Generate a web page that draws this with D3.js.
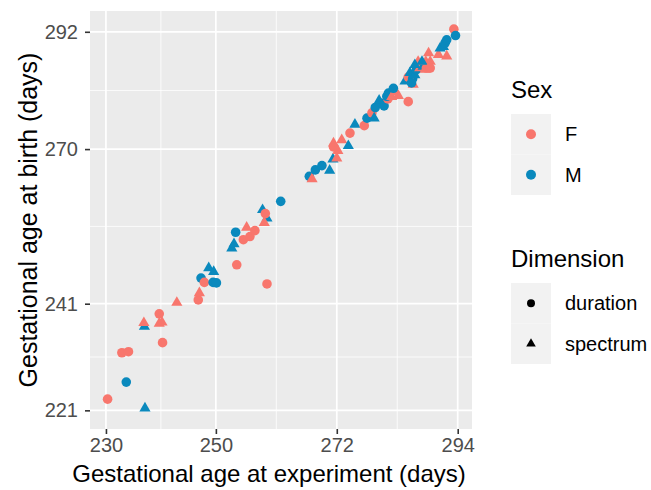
<!DOCTYPE html>
<html>
<head>
<meta charset="utf-8">
<script src="https://cdn.jsdelivr.net/npm/d3@7"></script>
<style>
  body { margin: 0; background: #fff; }
  svg { font-family: "Liberation Sans", Arial, sans-serif; }
</style>
</head>
<body>
<svg width="651" height="490"></svg>
<script>
// gestational ages (days)
const ageExperiment = [230.3, 233.7, 237.1, 232.9, 234.1, 240.3, 237.0, 236.9, 239.7, 239.7,
  240.2, 242.9, 246.8, 247.0, 247.3, 247.9, 249.5, 250.1, 248.7, 249.6,
  259.3, 253.8, 252.9, 253.3, 253.6, 255.0, 256.2, 257.1, 255.6, 258.5,
  259.3, 259.0, 258.8, 261.8, 267.0, 267.5, 268.1, 269.3, 270.7, 271.3,
  272.0, 271.4, 271.4, 272.9, 272.2, 274.1, 274.4, 275.3, 277.0, 277.5,
  278.4, 278.8, 279.0, 280.2, 279.7, 280.6, 281.3, 281.1, 281.4, 282.0,
  282.6, 283.2, 282.3, 285.0, 284.4, 285.0, 285.8, 285.9, 285.3, 285.6,
  286.2, 286.5, 286.8, 287.1, 286.2, 287.7, 288.3, 288.1, 288.7, 288.2,
  289.0, 287.5, 290.5, 292.0, 290.8, 291.4, 291.7, 292.0, 293.3, 293.6, 289.0];
const ageBirth = [223.1, 226.3, 221.4, 231.8, 232.0, 233.7, 236.7, 237.4, 239.1, 237.3,
  237.5, 241.2, 241.7, 243.0, 245.8, 245.0, 245.0, 244.9, 247.7, 247.0,
  244.7, 248.3, 251.4, 252.2, 254.4, 253.0, 253.6, 254.7, 255.3, 258.6,
  257.0, 257.9, 256.2, 260.2, 264.9, 264.4, 266.1, 266.9, 266.0, 268.1,
  268.3, 270.4, 271.1, 271.7, 269.7, 270.6, 273.0, 274.6, 274.4, 275.8,
  276.8, 275.8, 277.8, 278.6, 279.1, 278.1, 279.4, 279.9, 280.5, 279.8,
  280.7, 280.0, 281.4, 278.9, 282.7, 283.5, 283.2, 282.1, 284.3, 282.4,
  283.9, 284.9, 286.4, 285.2, 285.8, 285.5, 285.2, 284.9, 288.0, 286.4,
  286.4, 286.4, 287.7, 287.4, 288.9, 289.2, 289.9, 290.5, 292.5, 291.3, 285.2];
// one letter per point: F / M
const sex = ("FMMFFFMFFF" + "FFFFMFMMMM" + "FFMMMFFFFM" + "MFFMMFMMMM" + "FFFFFMFMFM" +
  "FMMMMMFMMF" + "FFMFMFMFMM" + "MMFFMMFFFF" + "FMFFMMMMFMF").split("");
// one letter per point: d = duration, s = spectrum
const dimension = ("ddsdddssds" + "ssdsddddss" + "ddssddddss" + "sdsddsddss" + "sdssssdsdd" +
  "dsddsdddds" + "ssddsddssd" + "sdssssdsss" + "ssssssddddd").split("");

const sexLevels = ["F", "M"];
const sexColors = ["#F8766D", "#0A89BD"];
const dimLevels = ["duration", "spectrum"];

const xTicks = [230, 250, 272, 294];
const yTicks = [221, 241, 270, 292];
const xMinor = [240, 261, 283];
const yMinor = [231, 255.5, 281];
const xLimits = [227.1, 296.6];
const yLimits = [217.5, 295.9];

const svg = d3.select("svg");
const panel = { left: 90, right: 472, top: 11, bottom: 429 };

const x = d3.scaleLinear().domain(xLimits).range([panel.left, panel.right]);
const y = d3.scaleLinear().domain(yLimits).range([panel.bottom, panel.top]);
const color = d3.scaleOrdinal().domain(sexLevels).range(sexColors);

// panel background
svg.append("rect")
  .attr("x", panel.left).attr("y", panel.top)
  .attr("width", panel.right - panel.left).attr("height", panel.bottom - panel.top)
  .attr("fill", "#EBEBEB");

// grid
const grid = svg.append("g").attr("stroke", "#fff");
grid.selectAll(".xminor").data(xMinor).enter().append("line")
  .attr("x1", d => x(d)).attr("x2", d => x(d))
  .attr("y1", panel.top).attr("y2", panel.bottom).attr("stroke-width", 0.8);
grid.selectAll(".yminor").data(yMinor).enter().append("line")
  .attr("y1", d => y(d)).attr("y2", d => y(d))
  .attr("x1", panel.left).attr("x2", panel.right).attr("stroke-width", 0.8);
grid.selectAll(".xmajor").data(xTicks).enter().append("line")
  .attr("x1", d => x(d)).attr("x2", d => x(d))
  .attr("y1", panel.top).attr("y2", panel.bottom).attr("stroke-width", 1.7);
grid.selectAll(".ymajor").data(yTicks).enter().append("line")
  .attr("y1", d => y(d)).attr("y2", d => y(d))
  .attr("x1", panel.left).attr("x2", panel.right).attr("stroke-width", 1.7);

// points
const points = ageExperiment.map((v, i) => ({
  x: v, y: ageBirth[i], sex: sex[i], dim: dimension[i] === "s" ? "spectrum" : "duration"
}));
const tri = d3.symbol().type(d3.symbolTriangle).size(54);
const dot = d3.symbol().type(d3.symbolCircle).size(Math.PI * 4.8 * 4.8);

svg.append("g").selectAll("path")
  .data(points)
  .enter()
  .append("path")
  .attr("transform", d => `translate(${x(d.x)},${y(d.y)})`)
  .attr("d", d => d.dim === "spectrum" ? tri() : dot())
  .attr("fill", d => color(d.sex));

// axes
const xAxis = svg.append("g")
  .attr("transform", `translate(0,${panel.bottom})`)
  .call(d3.axisBottom(x).tickValues(xTicks).tickSize(5).tickPadding(4));
const yAxis = svg.append("g")
  .attr("transform", `translate(${panel.left},0)`)
  .call(d3.axisLeft(y).tickValues(yTicks).tickSize(5).tickPadding(7));
[xAxis, yAxis].forEach(a => {
  a.select(".domain").remove();
  a.selectAll(".tick line").attr("stroke", "#333").attr("stroke-width", 1.6);
  a.selectAll(".tick text").attr("fill", "#4D4D4D").style("font-size", "20px")
    .style("font-family", "'Liberation Sans', Arial, sans-serif");
});

// axis titles
svg.append("text")
  .attr("x", 269).attr("y", 482)
  .attr("text-anchor", "middle")
  .style("font-size", "24px")
  .text("Gestational age at experiment (days)");
svg.append("text")
  .attr("transform", `translate(37,${(panel.top + panel.bottom) / 2}) rotate(-90)`)
  .attr("text-anchor", "middle")
  .style("font-size", "25px")
  .text("Gestational age at birth (days)");

// legends
function legend(top, title, labels, drawKey) {
  const g = svg.append("g");
  g.append("text").attr("x", 511).attr("y", top)
    .style("font-size", "24px").text(title);
  labels.forEach((lab, i) => {
    const ky = top + 16 + i * 40.5;
    g.append("rect").attr("x", 511).attr("y", ky)
      .attr("width", 40).attr("height", 40.5).attr("fill", "#F2F2F2");
    drawKey(g, 531, ky + 20.25, lab);
    g.append("text").attr("x", 565).attr("y", ky + 20.25).attr("dy", "0.35em")
      .style("font-size", "20px").text(lab);
  });
}

legend(98, "Sex", sexLevels, (g, cx, cy, lab) => {
  g.append("circle").attr("cx", cx).attr("cy", cy).attr("r", 5).attr("fill", color(lab));
});
legend(267, "Dimension", dimLevels, (g, cx, cy, lab) => {
  if (lab === "spectrum") {
    g.append("path").attr("transform", `translate(${cx},${cy})`)
      .attr("d", d3.symbol().type(d3.symbolTriangle).size(40)()).attr("fill", "#000");
  } else {
    g.append("circle").attr("cx", cx).attr("cy", cy).attr("r", 4).attr("fill", "#000");
  }
});
</script>
</body>
</html>
